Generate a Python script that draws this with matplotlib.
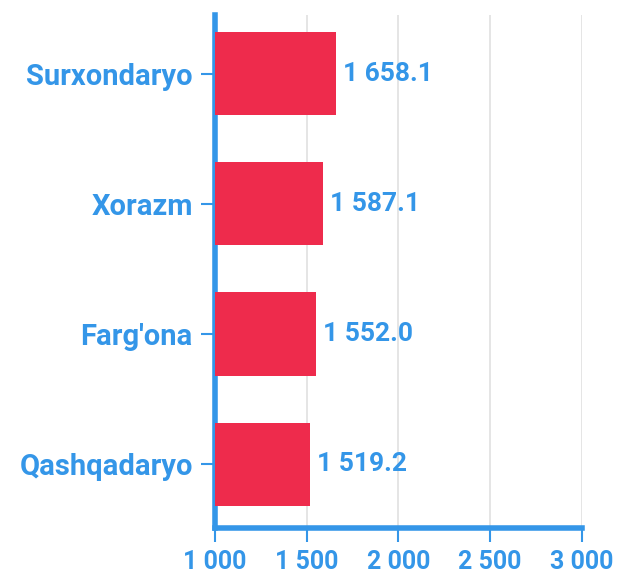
import matplotlib.pyplot as plt
import numpy as np

regions = ["Surxondaryo", "Xorazm", "Farg'ona", "Qashqadaryo"]
values = [1658.1, 1587.1, 1552.0, 1519.2]
xticks = [1000, 1500, 2000, 2500, 3000]

blue = '#3496e8'
red = '#ee2b4c'

plt.rcParams['font.family'] = ['Roboto', 'DejaVu Sans']

fig = plt.figure(figsize=(6.27, 5.73), dpi=100)
ax = fig.add_axes([0.343, 0.0785, 0.585, 0.8955])

y = np.arange(len(regions))
base = 1000
ax.barh(y, [v - base for v in values], left=base, height=0.64, color=red, zorder=3)

def fmt(v):
    s = f"{v:,.1f}".replace(',', ' ')
    return s

for yi, v in zip(y, values):
    ax.annotate(fmt(v), (v, yi), xytext=(5, 0), textcoords='offset points',
                va='center', ha='left', color=blue, fontsize=19, fontweight='bold')

ax.set_xlim(1000, 3000)
ax.set_ylim(3.49, -0.45)
ax.set_yticks(y)
ax.set_yticklabels(regions)
ax.set_xticks(xticks)
ax.set_xticklabels([f"{t:,}".replace(',', ' ') for t in xticks])

for lbl in ax.get_xticklabels():
    lbl.set_color(blue)
    lbl.set_fontsize(18)
    lbl.set_fontweight('bold')
for lbl in ax.get_yticklabels():
    lbl.set_color(blue)
    lbl.set_fontsize(21)
    lbl.set_fontweight('bold')

ax.grid(axis='x', color='#e0e0e0', linewidth=1.2, zorder=0)
for s in ['top', 'right']:
    ax.spines[s].set_visible(False)
for s in ['left', 'bottom']:
    ax.spines[s].set_color(blue)
    ax.spines[s].set_linewidth(4)
    ax.spines[s].set_capstyle('projecting')
ax.tick_params(axis='both', color=blue, width=1.5, length=10, pad=6)

fig.savefig('out.png', dpi=100)
